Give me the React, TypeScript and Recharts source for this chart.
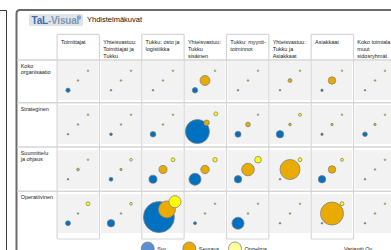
import React from "react";
import { ScatterChart, Scatter, XAxis, YAxis, ZAxis } from "recharts";

const columns: string[][] = [
  ["Toimittajat"],
  ["Yhteisvastuu:", "Toimittajat ja", "Tukku"],
  ["Tukku: osto ja", "logistiikka"],
  ["Yhteisvastuu:", "Tukku", "sisäinen"],
  ["Tukku: myynti-", "toiminnot"],
  ["Yhteisvastuu:", "Tukku ja", "Asiakkaat"],
  ["Asiakkaat"],
  ["Koko toimiala,", "muut", "sidosryhmät"],
];
const rows: string[][] = [
  ["Koko", "organisaatio"],
  ["Strateginen"],
  ["Suunnittelu", "ja ohjaus"],
  ["Operatiivinen"],
];
const seriesNames = ["Syy", "Seuraus", "Ongelma"];

const syy = [
  [1, 0, 0, 1.7, 0, 0, 0.2, 0],
  [0, 0.3, 1.8, 36, 2.1, 3.3, 0.2, 1.2],
  [0, 0.8, 3.9, 8.9, 3.3, 0, 3.3, 0],
  [1.4, 3.3, 60, 0.4, 8.9, 0, 0, 0],
];
const seuraus = [
  [0, 0, 0, 6.1, 0, 0.8, 3.3, 0],
  [0, 0, 0, 1.7, 1.2, 0.3, 0.2, 0.2],
  [0.3, 0.2, 3.9, 4.3, 9.8, 25, 3.3, 0],
  [0, 0, 18, 0, 0, 0, 33, 0],
];
const ongelma = [
  [0, 0, 0, 0, 0, 0, 0, 0],
  [0, 0, 0, 0.8, 0, 0.4, 0, 0],
  [0, 0.3, 0.8, 1.1, 2.6, 0.8, 0.4, 0],
  [0.8, 0.3, 8.9, 0, 0, 0, 0.8, 0],
];
const seriesValues = [syy, seuraus, ongelma];

const COLORS = ["#0070C0", "#E9AB00", "#FFFF00"];
const LEGEND_COLORS = ["#5B8FD3", "#E9AB00", "#FFFF99"];
const Z_MAX = 60;
const Z_RANGE: [number, number] = [2, 755];

const FONT = "'Liberation Sans', Arial, sans-serif";
const COL0 = 57.1;
const COLW = 42.35;
const ROW_CENTER0 = 80.6;
const ROWH = 44.2;
const CW = 40;
const CH = 39;
const rowLines = [60, 102.8, 147, 191.2];

function fitDomain(radii: number[], size: number): [number, number] {
  let a = 0;
  let b = 4;
  for (let i = 0; i < 30; i++) {
    const ppu = size / (b - a);
    let na = 0;
    let nb = 4;
    radii.forEach((r, k) => {
      const pos = k + 1;
      na = Math.min(na, pos - r / ppu);
      nb = Math.max(nb, pos + r / ppu);
    });
    a = na;
    b = nb;
  }
  return [a, b];
}

function CellChart({ r, c }: { r: number; c: number }) {
  const vals = seriesValues.map((s) => s[r][c]);
  const radii = vals.map(
    (v) => Math.sqrt((Z_RANGE[0] + (v / Z_MAX) * (Z_RANGE[1] - Z_RANGE[0])) / Math.PI) + 0.4
  );
  const xd = fitDomain(radii, CW);
  const yd = fitDomain(radii, CH);
  const left = COL0 + COLW / 2 + c * COLW - CW / 2;
  const top = ROW_CENTER0 + r * ROWH - CH / 2;
  return (
    <div style={{ position: "absolute", left, top, width: CW, height: CH, background: "#F2F2F2" }}>
      <ScatterChart width={CW} height={CH} margin={{ top: 0, right: 0, bottom: 0, left: 0 }}>
        <XAxis type="number" dataKey="x" domain={xd} hide allowDataOverflow />
        <YAxis type="number" dataKey="y" domain={yd} hide allowDataOverflow />
        <ZAxis type="number" dataKey="z" domain={[0, Z_MAX]} range={Z_RANGE} />
        {seriesNames.map((name, k) => (
          <Scatter
            key={name}
            name={name}
            data={[{ x: k + 1, y: k + 1, z: vals[k] }]}
            fill={COLORS[k]}
            stroke="#7F7F7F"
            strokeWidth={0.75}
            isAnimationActive={false}
          />
        ))}
      </ScatterChart>
    </div>
  );
}

export default function App() {
  const legendX = [147.7, 189.3, 235];
  return (
    <div
      style={{
        position: "fixed",
        left: 0,
        top: 0,
        width: 391,
        height: 250,
        overflow: "hidden",
        background: "#fff",
      }}
    >
      <svg width={391} height={250} style={{ position: "absolute", left: 0, top: 0 }}>
        {/* previous frame edge */}
        <path d="M0 10.5 H6.5 V250" fill="none" stroke="#3a3a3a" strokeWidth={1} />
        {/* main frame */}
        <path d="M16.5 250 V13.5 Q16.5 10 20 10 H391" fill="none" stroke="#6a6a6a" strokeWidth={2} />
        {/* logo */}
        <rect x={29} y={14} width={54} height={12} rx={1.5} fill="#DFE4EA" />
        <text x={31.5} y={24} fontFamily={FONT} fontWeight="bold" fontSize={10} letterSpacing={-0.2}>
          <tspan fill="#3A6DB3">TaL</tspan>
          <tspan fill="#8197B0">-Visual</tspan>
        </text>
        <circle cx={79} cy={17.5} r={2.2} fill="#7FA8D8" />
        <text x={87} y={22} fontFamily={FONT} fontSize={7.5} fill="#111">
          Yhdistelmäkuvat
        </text>
        {/* row lines */}
        {rowLines.map((y) => (
          <line key={y} x1={17} x2={391} y1={y} y2={y} stroke="#D6D6D6" strokeWidth={1.5} />
        ))}
        {/* column boxes */}
        {columns.map((_, c) =>
          c % 2 === 0 ? (
            <rect
              key={c}
              x={COL0 + c * COLW}
              y={34.3}
              width={COLW}
              height={239 - 34.3}
              rx={1}
              fill="none"
              stroke="#D6D6D6"
              strokeWidth={1.2}
            />
          ) : null
        )}
        {/* column headers */}
        {columns.map((lines, c) => (
          <text key={c} fontFamily={FONT} fontSize={5.5} fill="#222">
            {lines.map((ln, i) => (
              <tspan key={i} x={COL0 + c * COLW + 3.8} y={43.5 + i * 7.2}>
                {ln}
              </tspan>
            ))}
          </text>
        ))}
        {/* row labels */}
        {rows.map((lines, r) => (
          <text key={r} fontFamily={FONT} fontSize={5.5} fill="#222">
            {lines.map((ln, i) => (
              <tspan key={i} x={20.7} y={rowLines[r] + 7.8 + i * 6.2}>
                {ln}
              </tspan>
            ))}
          </text>
        ))}
        {/* legend */}
        {seriesNames.map((name, k) => (
          <g key={name}>
            <circle cx={legendX[k]} cy={248.5} r={6.5} fill={LEGEND_COLORS[k]} stroke="#7F7F7F" strokeWidth={0.8} />
            <text x={legendX[k] + 9.5} y={250.5} fontFamily={FONT} fontSize={5.5} fill="#222">
              {name}
            </text>
          </g>
        ))}
        <text x={344} y={250.5} fontFamily={FONT} fontSize={5.5} fill="#222">
          Variantti Oy
        </text>
      </svg>
      {rows.map((_, r) => columns.map((__, c) => <CellChart key={`${r}-${c}`} r={r} c={c} />))}
    </div>
  );
}
